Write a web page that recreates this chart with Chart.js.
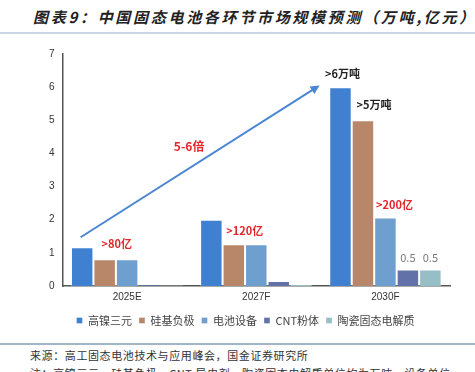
<!DOCTYPE html>
<html>
<head>
<meta charset="utf-8">
<script src="https://cdn.jsdelivr.net/npm/chart.js@4"></script>
<style>
  body{margin:0;width:475px;height:372px;overflow:hidden;background:#fff;position:relative;font-family:"Noto Sans CJK SC",sans-serif;}
  #title{position:absolute;left:33px;top:6px;font-size:15px;font-weight:bold;font-style:italic;letter-spacing:2.7px;color:#222;white-space:nowrap;}
  .rule{position:absolute;left:0;width:475px;height:2px;background:#c9d6e3;}
  #wrap{position:absolute;left:0;top:40px;width:475px;height:300px;}
  .note{position:absolute;left:30px;font-size:11px;color:#333;white-space:nowrap;letter-spacing:0.6px;}
</style>
</head>
<body>
<div id="title">图表9：中国固态电池各环节市场规模预测（万吨,亿元）</div>
<div class="rule" style="top:32px"></div>
<div id="wrap"><canvas id="chart"></canvas></div>
<div class="rule" style="top:343px;height:1.5px;background:#9fb6ca"></div>
<div class="note" style="top:347px">来源：高工固态电池技术与应用峰会，国金证券研究所</div>
<div class="note" style="top:365px">注：高镍三元、硅基负极、CNT 导电剂、陶瓷固态电解质单位均为万吨，设备单位</div>
<script>
// data
const years = ['2025E','2027F','2030F'];
const seriesNames = ['高镍三元','硅基负极','电池设备','CNT粉体','陶瓷固态电解质'];
const nickel   = [1.17, 2.0, 6.0];
const silicon  = [0.81, 1.26, 5.0];
const equip    = [0.81, 1.26, 2.07];
const cnt      = [0.05, 0.15, 0.5];
const ceramic  = [0.02, 0.06, 0.5];
const yTicks   = [0,1,2,3,4,5,6,7];
// callouts: text, series index, category index
const callouts = [
  ['>80亿', 1, 0], ['>120亿', 1, 1], ['>6万吨', 0, 2], ['>5万吨', 1, 2],
  ['>200亿', 2, 2], ['0.5', 3, 2], ['0.5', 4, 2]
];
// growth arrow: [category position, value] start and end, and its label
const arrowFrom = [-0.36, 1.47];
const arrowTo   = [1.49, 6.05];
const arrowText = '5-6倍';

const colors = ['#4080d0','#b8876a','#6e9fcf','#6272a8','#96bec6'];
const cjk = '"Noto Sans CJK SC", sans-serif';

const calloutStyle = {
  '>80亿':  {color:'#e0262a', dx:12, dy:-15},
  '>120亿': {color:'#e0262a', dx:11, dy:-13},
  '>6万吨': {color:'#222', dx:2, dy:-13},
  '>5万吨': {color:'#222', dx:11, dy:-15},
  '>200亿': {color:'#e0262a', dx:9, dy:-13},
  '0.5':    {color:'#777', dx:0, dy:-12}
};

const overlay = {
  id:'overlay',
  afterDatasetsDraw(chart){
    const c = chart.ctx, xs = chart.scales.x, ys = chart.scales.y;
    c.save();
    c.textAlign = 'center';
    c.textBaseline = 'middle';
    callouts.forEach(([t, s, i]) => {
      const bar = chart.getDatasetMeta(s).data[i];
      const st = calloutStyle[t];
      c.fillStyle = st.color;
      c.font = (t === '0.5' ? '11px ' : 'bold 11px ') + cjk;
      c.fillText(t, bar.x + st.dx, bar.y + st.dy);
    });
    // arrow
    const x0 = xs.getPixelForValue(arrowFrom[0]), y0 = ys.getPixelForValue(arrowFrom[1]);
    const x1 = xs.getPixelForValue(arrowTo[0]),   y1 = ys.getPixelForValue(arrowTo[1]);
    const ang = Math.atan2(y1 - y0, x1 - x0);
    c.strokeStyle = '#4a86d4';
    c.fillStyle = '#4a86d4';
    c.lineWidth = 2;
    c.beginPath();
    c.moveTo(x0, y0);
    c.lineTo(x1 - 6*Math.cos(ang), y1 - 6*Math.sin(ang));
    c.stroke();
    c.beginPath();
    c.moveTo(x1, y1);
    c.lineTo(x1 - 9*Math.cos(ang) + 4.5*Math.sin(ang), y1 - 9*Math.sin(ang) - 4.5*Math.cos(ang));
    c.lineTo(x1 - 9*Math.cos(ang) - 4.5*Math.sin(ang), y1 - 9*Math.sin(ang) + 4.5*Math.cos(ang));
    c.closePath();
    c.fill();
    c.fillStyle = '#e0262a';
    c.font = 'bold 12px ' + cjk;
    c.fillText(arrowText, xs.getPixelForValue(0.48), ys.getPixelForValue(4.2));
    c.restore();
  }
};

const values = [nickel, silicon, equip, cnt, ceramic];
new Chart(document.getElementById('chart'), {
  type:'bar',
  data:{
    labels: years,
    datasets: values.map((v, k) => ({
      label: seriesNames[k],
      data: v,
      backgroundColor: colors[k],
      borderColor: 'rgba(255,255,255,0.35)',
      borderWidth: 1,
      categoryPercentage: 0.87,
      barPercentage: 1.0
    }))
  },
  options:{
    responsive:true,
    maintainAspectRatio:false,
    animation:false,
    layout:{padding:{left:41, right:25, top:5, bottom:4}},
    plugins:{
      tooltip:{enabled:false},
      legend:{
        position:'bottom',
        labels:{boxWidth:6, boxHeight:6, padding:7, color:'#444', font:{family:cjk, size:11}}
      }
    },
    scales:{
      x:{
        grid:{display:false, drawTicks:false},
        border:{display:true, color:'#555', width:1.5},
        ticks:{color:'#333', font:{size:10, family:'"Liberation Sans", Arial'}, padding:5}
      },
      y:{
        min:0, max:7,
        afterBuildTicks(ax){ ax.ticks = yTicks.map(v => ({value:v})); },
        grid:{display:false, drawTicks:false},
        border:{display:true, color:'#555', width:1.5},
        ticks:{color:'#333', font:{size:10, family:'"Liberation Sans", Arial'}, padding:8}
      }
    }
  },
  plugins:[overlay]
});
</script>
</body>
</html>
